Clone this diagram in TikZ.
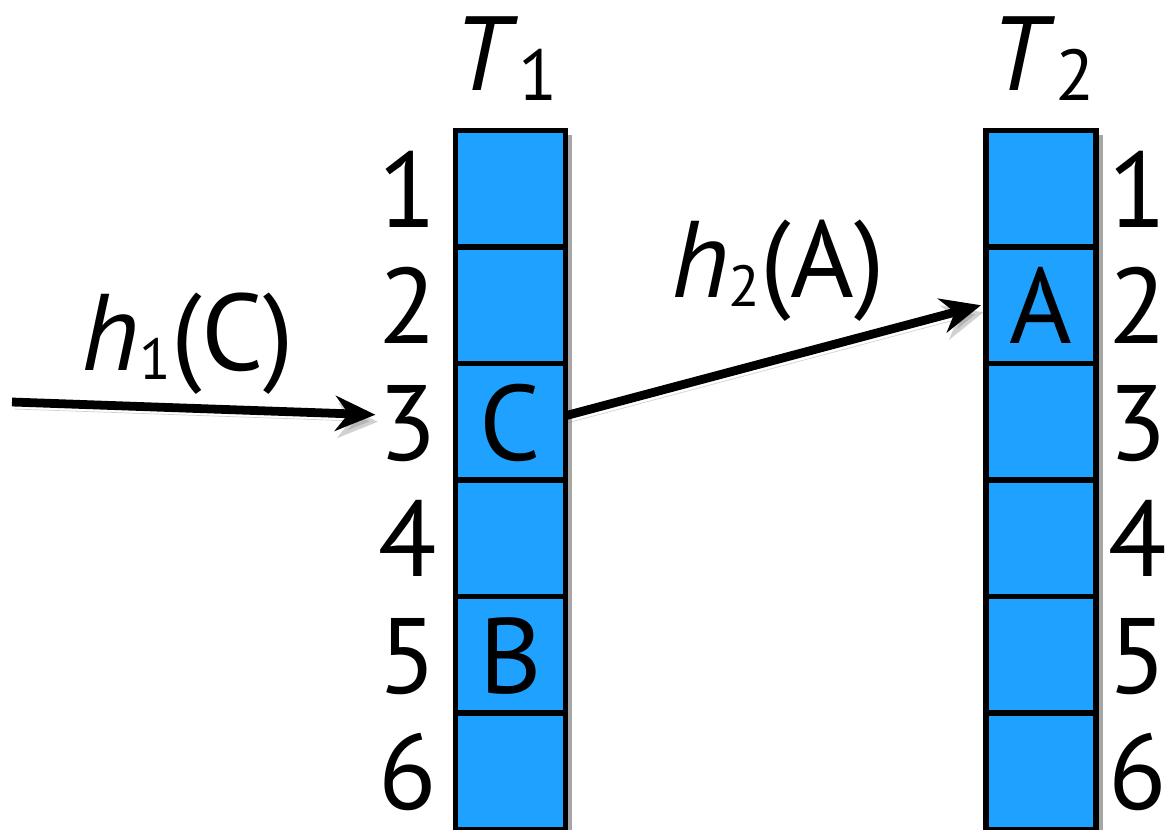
\documentclass[tikz,border=0pt]{standalone}
\usepackage{fontspec}
\setmainfont{PT Sans}
\usetikzlibrary{arrows.meta,positioning,backgrounds}
\definecolor{cellblue}{RGB}{31,162,255}
\newcommand{\tsub}[1]{\raisebox{-0.2cm}{\fontsize{41}{41}\selectfont #1}}
\newcommand{\hsub}[1]{\raisebox{-0.18cm}{\fontsize{33}{33}\selectfont #1}}
\tikzset{
  cell/.style={draw=black,line width=3.2pt,fill=cellblue,minimum width=2.2cm,
    minimum height=2.33cm,inner sep=0pt,outer sep=0pt},
  colshadow/.style={fill=black,opacity=0.35},
  digit/.style={font=\fontsize{61}{64}\selectfont,inner sep=0pt,text height=1.53cm,text depth=0pt},
  tlabel/.style={font=\fontsize{60}{62}\selectfont,inner sep=0pt,anchor=base},
  hlabel/.style={font=\fontsize{62}{64}\selectfont,inner sep=0pt,anchor=base},
  conn/.style={->,line width=5pt,
    preaction={draw=black!45,opacity=0.4,transform canvas={xshift=0.05cm,yshift=-0.14cm}}}
}

\begin{document}
\begin{tikzpicture}[x=0.02cm,y=-0.02cm,>={Stealth[length=0.8cm,width=0.7cm]}]
  \useasboundingbox (0,0) rectangle (1165,829);
  % table T1, numbers on the left
  \foreach \i in {1,...,6} {
    \node[cell] (t1c\i) at (510.5,{130.5+116.5*(\i-0.5)}) {};
    \node[digit,left=0.36cm of t1c\i] (t1n\i) {\i};
  }
  % table T2, numbers on the right
  \foreach \i in {1,...,6} {
    \node[cell] (t2c\i) at (1041,{130.5+116.5*(\i-0.5)}) {};
    \node[digit,right=0.24cm of t2c\i] (t2n\i) {\i};
  }
  % shadows behind the tables
  \begin{scope}[on background layer]
    \fill[colshadow] ([xshift=0.14cm,yshift=-0.08cm]t1c1.north west) rectangle ([xshift=0.14cm,yshift=-0.08cm]t1c6.south east);
    \fill[colshadow] ([xshift=0.14cm,yshift=-0.08cm]t2c1.north west) rectangle ([xshift=0.14cm,yshift=-0.08cm]t2c6.south east);
  \end{scope}
  \node[tlabel] (t1lbl) at (506,90) {\textit{T}\tsub{1}};
  \node[tlabel] (t2lbl) at (1043,90) {\textit{T}\tsub{2}};
  % keys
  \node[digit] (keyC) at (t1c3) {C};
  \node[digit] (keyB) at (t1c5) {B};
  \node[digit] (keyA) at (t2c2) {A};
  % hash arrows
  \coordinate (start) at (12,402);
  \draw[conn] (start) -- ([xshift=-0.06cm,yshift=0.14cm]t1n3.west);
  \node[hlabel] (h1lbl) at (188,370) {\textit{h}\hsub{1}(C)};
  \draw[conn] ([yshift=0.12cm]t1c3.east) -- ([xshift=-0.1cm]t2c2.west);
  \node[hlabel] (h2lbl) at (778,297) {\textit{h}\hsub{2}(A)};
\end{tikzpicture}
\end{document}
